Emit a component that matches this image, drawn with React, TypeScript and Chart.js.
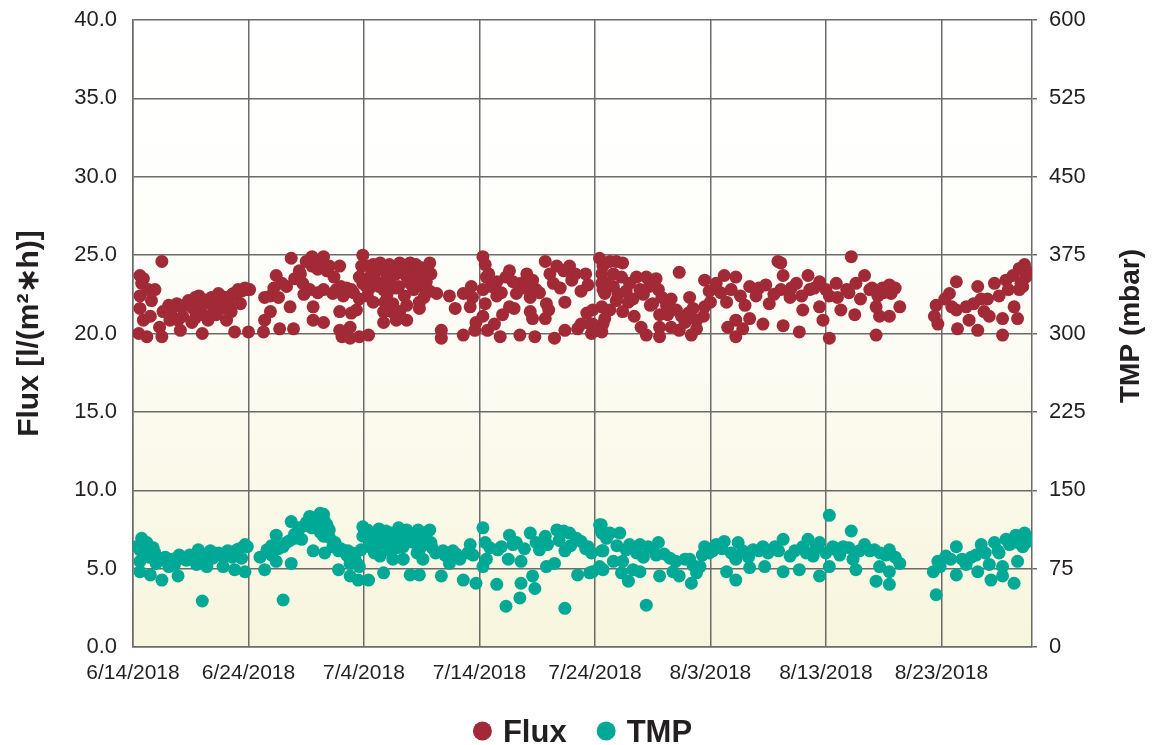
import React, { useEffect, useRef } from "react";
import { Chart, registerables } from "chart.js";

Chart.register(...registerables);

const FONT = "'Liberation Sans', Arial, Helvetica, sans-serif";
const TEXT = "#231f20";
const GRID = "#6b6b6b";
const FLUX_COLOR = "#a12a36";
const TMP_COLOR = "#00a896";

// x values are days since 6/14/2018
const xTickDays = [0, 10, 20, 30, 40, 50, 60, 70];
const xTickLabels = ["6/14/2018", "6/24/2018", "7/4/2018", "7/14/2018", "7/24/2018", "8/3/2018", "8/13/2018", "8/23/2018"];
const X_MAX = 77.85;

const seriesLabels = ["Flux", "TMP"];
const fluxTitle = "Flux [l/(m²∗h)]";
const tmpTitle = "TMP (mbar)";

// Flux [l/(m²h)] : [day, value]
const fluxData: [number, number][] = [
  [0.6, 23.7], [0.9, 23.5], [0.75, 23.2], [0.6, 22.4], [1.3, 22.8], [1.9, 22.8], [1.6, 22.1], [0.6, 21.6], [0.9, 20.85], [1.5, 21.1],
  [0.5, 20.0], [1.2, 19.8], [2.5, 24.6], [2.5, 19.8], [2.3, 20.4], [2.6, 21.4], [3.1, 21.8], [3.5, 21.7], [3.9, 20.85], [4.1, 20.2],
  [4.5, 21.8], [4.8, 22.1], [5.1, 20.7], [5.7, 22.4], [6.0, 20.0], [5.8, 21.7], [6.5, 22.1], [6.5, 20.85], [7.1, 22.1], [7.4, 22.55],
  [7.7, 21.6], [8.1, 20.85], [8.3, 22.2], [8.7, 22.55], [8.8, 20.1], [9.1, 22.8], [9.7, 22.9], [10.0, 20.1], [9.3, 21.9], [10.1, 22.8],
  [8.4, 21.7], [7.0, 21.5], [5.2, 21.6], [3.2, 20.85],
  [3.0, 21.6], [3.8, 21.9], [4.2, 21.7], [5.0, 22.0], [5.4, 22.3], [6.0, 22.2], [6.2, 21.9], [6.8, 22.3], [7.3, 22.0], [7.6, 22.4],
  [8.0, 22.3], [8.6, 22.5], [9.0, 22.6], [9.4, 22.7], [9.8, 22.8], [3.3, 21.2], [4.3, 21.1], [5.4, 21.0], [6.3, 21.1], [7.2, 21.2], [8.5, 21.4],
  [11.4, 22.3], [11.9, 22.4], [12.4, 23.7], [12.6, 22.3], [11.4, 20.85], [11.3, 20.1], [11.9, 21.4], [12.7, 20.3], [13.7, 24.8], [13.3, 23.0],
  [13.9, 20.3], [13.6, 21.7], [14.5, 23.8], [14.7, 23.2], [15.5, 24.9], [15.5, 24.3], [16.5, 24.9], [16.0, 24.1], [17.0, 24.3], [15.6, 21.7],
  [15.6, 20.85], [16.5, 20.7], [15.3, 22.8], [16.5, 22.8], [17.3, 22.55], [17.9, 24.3], [18.2, 22.4], [18.9, 22.8], [17.9, 21.4], [17.9, 20.2],
  [18.1, 19.8], [18.8, 19.7], [18.9, 21.3], [18.8, 20.4], [19.6, 19.8], [19.9, 25.0], [19.8, 24.3], [19.6, 23.6], [19.9, 23.2], [19.6, 22.2],
  [20.4, 19.9], [19.35, 21.5],
  [12.2, 22.9], [12.9, 23.2], [14.0, 23.5], [14.4, 24.0], [15.0, 24.6], [16.2, 24.6], [16.8, 24.0], [17.4, 23.6], [18.0, 23.0], [18.5, 22.9],
  [19.1, 22.6], [14.8, 22.5], [16.0, 22.6], [17.6, 22.8],
  [20.4, 24.3], [20.8, 24.4], [21.4, 24.5], [22.2, 24.4], [23.1, 24.5], [24.0, 24.5], [24.5, 24.4], [25.7, 24.5], [25.8, 23.8], [20.5, 23.6],
  [21.1, 23.3], [22.0, 23.6], [22.8, 23.8], [23.7, 23.6], [24.5, 23.7], [25.4, 23.3], [20.5, 22.9], [21.7, 22.8], [22.8, 22.9], [24.3, 22.8],
  [20.8, 22.0], [21.8, 22.0], [22.5, 21.9], [23.7, 21.8], [24.8, 22.0], [21.7, 21.4], [22.4, 21.4], [23.1, 21.4], [21.7, 20.7], [22.8, 20.85],
  [23.7, 20.85], [24.8, 21.6], [25.7, 22.7], [26.3, 22.55], [26.7, 20.2], [26.7, 19.7], [27.4, 22.4], [27.9, 21.6], [28.6, 22.55], [28.6, 19.9],
  [29.3, 23.0], [29.4, 22.3], [29.7, 20.7], [29.6, 20.2], [29.2, 21.7],
  [21.0, 24.0], [21.6, 24.2], [22.5, 24.0], [23.4, 24.1], [24.2, 24.0], [25.0, 24.2], [20.2, 23.0], [21.3, 23.0], [23.0, 23.0], [24.0, 23.2],
  [25.0, 23.0], [22.0, 22.5], [23.5, 22.4], [25.2, 22.3],
  [20.9, 23.8], [21.9, 23.9], [22.9, 24.2], [23.9, 23.9], [24.9, 23.9], [25.5, 24.0], [20.3, 22.4], [22.3, 23.2], [24.6, 23.2],
  [30.3, 24.9], [30.5, 24.4], [30.6, 23.6], [30.3, 22.8], [30.5, 21.9], [30.3, 21.1], [30.7, 20.2], [30.8, 23.8], [31.5, 23.3], [31.5, 22.4],
  [31.3, 20.6], [31.8, 19.8], [32.0, 21.2], [32.3, 23.6], [32.6, 24.0], [32.6, 21.7], [33.2, 22.55], [33.5, 19.9], [33.6, 23.2], [34.1, 23.8],
  [34.4, 22.3], [34.4, 21.4], [34.6, 20.95], [34.8, 19.8], [34.9, 22.8], [35.7, 24.6], [35.7, 20.95], [35.8, 21.9], [36.1, 23.8], [36.5, 19.7],
  [36.7, 24.3], [37.3, 24.0], [37.4, 22.0], [37.4, 20.2], [37.8, 24.3], [38.3, 23.8], [38.5, 20.3], [38.8, 20.6], [39.4, 23.1], [39.3, 21.3],
  [39.6, 20.6], [39.7, 20.0], [40.4, 24.8], [40.6, 23.8], [40.7, 22.8], [40.6, 21.7], [40.7, 20.6], [40.4, 20.2],
  [31.0, 23.0], [31.9, 22.6], [32.9, 23.3], [33.9, 22.9], [34.6, 23.4], [35.2, 22.6], [36.4, 23.2], [37.0, 22.9], [38.0, 23.4], [38.8, 22.7],
  [39.2, 23.8], [33.0, 21.6], [36.0, 21.5],
  [39.8, 21.5], [39.8, 20.6], [40.1, 20.2], [40.7, 24.3], [40.6, 23.2], [40.85, 22.55], [40.85, 20.95], [40.6, 20.1], [41.3, 24.6], [41.85, 24.6],
  [42.4, 24.5], [41.6, 23.8], [41.3, 21.5], [41.85, 22.1], [42.3, 23.6], [42.4, 21.4], [43.0, 23.2], [42.9, 22.0], [43.6, 23.6], [43.9, 22.8],
  [43.4, 21.1], [44.0, 20.4], [44.45, 19.9], [44.45, 23.6], [44.7, 23.0], [45.3, 23.5], [45.5, 22.8], [45.0, 21.9], [45.6, 21.2], [45.6, 20.4],
  [45.6, 19.8], [46.2, 21.8], [46.6, 22.2], [46.6, 20.4], [47.3, 23.9], [47.05, 21.5], [47.5, 21.1], [47.3, 20.2], [48.2, 22.3], [48.1, 21.3],
  [48.35, 19.9], [48.8, 20.85], [48.8, 20.3], [49.4, 21.1], [49.5, 23.4], [49.5, 21.7], [49.9, 22.7],
  [41.0, 23.2], [41.6, 23.0], [42.0, 22.5], [42.7, 22.7], [43.3, 22.2], [44.2, 22.5], [44.8, 21.8], [45.8, 22.3], [46.3, 21.2], [47.8, 20.7],
  [48.5, 21.6],
  [50.5, 23.2], [51.2, 23.7], [51.4, 22.0], [51.5, 20.4], [52.2, 23.6], [52.2, 20.85], [52.2, 19.8], [52.8, 20.3], [53.4, 23.0], [53.4, 20.95],
  [53.95, 22.4], [54.55, 20.6], [54.8, 23.1], [55.1, 21.9], [55.85, 24.6], [56.1, 24.5], [56.3, 23.7], [56.1, 22.8], [56.3, 20.5], [56.9, 22.3],
  [57.45, 23.2], [57.7, 20.1], [58.0, 21.5], [58.45, 23.7], [58.6, 22.8], [59.45, 23.3], [59.45, 21.7], [59.75, 20.85], [60.3, 19.7], [60.3, 22.4],
  [60.9, 23.2], [61.3, 21.5], [62.2, 24.9], [61.8, 22.8], [62.5, 21.2], [62.6, 23.2], [63.35, 23.7], [63.8, 22.8], [64.35, 19.9], [64.35, 21.7],
  [64.65, 21.1], [64.9, 22.9], [65.5, 23.1], [65.5, 21.1], [65.65, 22.55], [66.4, 21.7],
  [50.0, 22.0], [50.9, 22.6], [51.8, 22.8], [52.6, 22.4], [53.0, 21.8], [54.2, 22.9], [55.5, 22.5], [57.0, 22.9], [57.9, 22.4], [59.0, 22.9],
  [60.0, 22.8], [61.0, 22.3], [62.0, 22.6], [63.0, 22.2], [64.0, 22.9], [65.0, 22.6], [64.5, 22.4], [66.0, 22.9],
  [69.4, 21.1], [69.55, 21.8], [69.7, 20.6], [70.3, 22.2], [70.7, 22.55], [71.3, 23.3], [71.3, 21.5], [71.4, 20.3], [72.15, 21.7], [72.4, 20.85],
  [73.15, 23.0], [73.15, 20.2], [73.45, 22.2], [73.7, 21.4], [74.15, 21.1], [74.6, 23.2], [75.0, 22.4], [75.3, 20.95], [75.3, 19.9], [75.6, 23.4],
  [76.2, 23.7], [76.3, 21.7], [76.6, 20.95], [76.75, 24.15], [77.2, 24.4], [77.3, 23.6], [77.05, 23.0], [76.75, 22.8],
  [70.9, 21.7], [72.8, 21.9], [74.0, 22.2], [75.8, 22.8], [76.9, 23.2], [77.4, 24.0],
];

// TMP [mbar] : [day, value]
const tmpData: [number, number][] = [
  [0.75, 104], [1.2, 100], [0.6, 93], [1.0, 88], [1.75, 95], [1.9, 90], [0.6, 82], [0.6, 72], [1.5, 69], [2.5, 64],
  [2.5, 84], [3.1, 77], [3.9, 68], [3.6, 79], [4.35, 85], [4.9, 88], [5.65, 93], [5.5, 79], [6.0, 44], [6.4, 77],
  [6.7, 92], [7.4, 90], [7.8, 77], [8.4, 88], [9.0, 93], [9.7, 98], [9.7, 72], [8.8, 74], [11.6, 93], [11.4, 74],
  [12.0, 88], [12.4, 107], [12.4, 82], [13.0, 45], [13.7, 120], [13.7, 80], [13.3, 100], [14.3, 111], [14.6, 103], [15.3, 125],
  [15.5, 114], [15.6, 92], [16.5, 127], [16.8, 117], [16.5, 106], [16.6, 90], [17.3, 96], [17.8, 74], [18.3, 92], [18.8, 80],
  [18.8, 68], [19.5, 64], [19.6, 77], [19.9, 115], [19.9, 106], [19.75, 93], [20.4, 64], [20.5, 96], [21.1, 109], [21.7, 71],
  [22.0, 100], [22.5, 84], [23.0, 114], [23.7, 112], [24.0, 69], [23.4, 96], [24.3, 100], [24.8, 69], [25.1, 84], [25.7, 112],
  [25.8, 100], [26.7, 68], [26.85, 92], [27.7, 92], [28.3, 84], [28.6, 64], [29.45, 88], [29.7, 61], [30.3, 114], [30.5, 100],
  [30.3, 77], [30.6, 84], [31.5, 60], [31.6, 93], [32.3, 39], [32.6, 107], [32.5, 84], [33.5, 47], [33.6, 61], [33.6, 82],
  [34.4, 109], [34.6, 68], [34.8, 56], [35.7, 106], [35.8, 77], [36.5, 80], [36.7, 112], [37.3, 111], [37.4, 92], [37.4, 37],
  [37.8, 109], [38.4, 104], [38.5, 69], [39.4, 96], [39.55, 71], [40.4, 117], [40.6, 109], [40.6, 92], [40.7, 74], [35.2, 93],
  [33.2, 100], [29.2, 98], [27.4, 80], [24.8, 93], [22.2, 93], [23.4, 84], [21.4, 87],
  [0.3, 96], [1.4, 86], [2.0, 80], [3.3, 82], [4.0, 88], [5.0, 84], [5.9, 86], [6.9, 85], [7.9, 86], [8.9, 90],
  [9.4, 85], [11.0, 86], [12.8, 96], [14.0, 104], [14.9, 116], [15.9, 120], [16.2, 110], [17.0, 105], [17.8, 92], [18.5, 88],
  [19.2, 86], [20.8, 103], [21.6, 106], [22.6, 104], [23.5, 106], [24.4, 104], [25.3, 106], [20.9, 90], [22.9, 95], [24.6, 90],
  [26.2, 90], [27.0, 88], [28.0, 89], [29.0, 90], [30.9, 95], [31.9, 96], [32.9, 98], [33.9, 94], [34.9, 100], [35.9, 98],
  [36.9, 102], [37.9, 97], [38.8, 101], [39.2, 94],
  [2.8, 86], [3.4, 84], [4.6, 83], [5.2, 88], [6.1, 89], [6.6, 86], [7.0, 89], [7.6, 88], [8.2, 92], [8.6, 86], [9.2, 94], [9.9, 96],
  [12.0, 97], [12.6, 94], [13.0, 96], [13.6, 102], [14.0, 108], [14.4, 114], [15.0, 119], [15.9, 124], [16.2, 128], [16.6, 120],
  [17.0, 112], [17.5, 100], [18.0, 94], [18.6, 92], [19.0, 90], [19.4, 80],
  [20.3, 112], [20.7, 108], [21.3, 113], [21.9, 111], [22.4, 109], [23.3, 110], [24.1, 108], [24.7, 112], [25.5, 110], [20.6, 100],
  [21.5, 99], [22.7, 100], [23.9, 101], [25.0, 97], [25.9, 95],
  [39.7, 90], [39.8, 72], [40.55, 117], [40.55, 111], [40.7, 92], [40.4, 77], [41.3, 109], [42.15, 109], [41.6, 82], [42.4, 82],
  [42.3, 71], [42.9, 63], [43.0, 98], [43.3, 74], [43.9, 98], [43.9, 72], [44.45, 40], [44.6, 96], [45.5, 100], [45.3, 88],
  [45.6, 68], [46.5, 85], [46.75, 72], [47.3, 68], [47.8, 84], [48.2, 84], [48.35, 61], [48.8, 71], [49.1, 77], [49.5, 96],
  [49.9, 90], [50.5, 98], [51.2, 101], [51.4, 72], [52.2, 64], [52.4, 100], [52.2, 84], [53.4, 76], [53.7, 93], [54.55, 96],
  [54.7, 77], [55.6, 96], [56.3, 103], [56.3, 72], [56.9, 87], [57.7, 74], [58.0, 96], [58.45, 103], [58.9, 87], [59.45, 100],
  [59.45, 68], [60.3, 126], [60.3, 77], [60.9, 93], [61.5, 96], [62.2, 111], [62.35, 84], [62.6, 74], [63.35, 98], [64.2, 93],
  [64.35, 63], [64.65, 77], [65.5, 93], [65.5, 72], [65.5, 60], [66.4, 80],
  [41.0, 104], [41.9, 97], [42.7, 93], [43.6, 90], [44.2, 86], [45.0, 94], [46.0, 89], [47.0, 82], [48.5, 78], [49.3, 88],
  [50.2, 92], [51.0, 94], [51.8, 90], [52.8, 92], [53.3, 86], [54.2, 92], [55.0, 90], [55.9, 92], [57.3, 92], [58.3, 90],
  [59.1, 94], [60.0, 90], [60.6, 96], [61.2, 88], [62.0, 95], [62.9, 92], [63.8, 92], [64.7, 90], [65.2, 88], [66.0, 86],
  [69.3, 72], [69.55, 50], [69.7, 82], [70.4, 87], [71.3, 96], [71.3, 69], [72.15, 79], [73.0, 88], [73.15, 72], [73.45, 98],
  [74.15, 79], [74.3, 64], [74.6, 100], [75.3, 77], [75.3, 68], [75.6, 103], [76.3, 61], [76.6, 82], [76.45, 107], [77.2, 109],
  [77.35, 100], [77.05, 96], [75.0, 90],
  [69.9, 77], [70.8, 84], [71.8, 84], [72.6, 86], [73.8, 90], [74.9, 92], [75.9, 98], [76.6, 100], [77.5, 104],
];

export default function App() {
  const ref = useRef<HTMLCanvasElement>(null);

  useEffect(() => {
    if (!ref.current) return;

    const bgPlugin = {
      id: "bgGradient",
      beforeDraw(chart: any) {
        const { ctx, chartArea } = chart;
        const { left, top, right, bottom } = chartArea;
        const g = ctx.createLinearGradient(0, top, 0, bottom);
        g.addColorStop(0, "#ffffff");
        g.addColorStop(0.35, "#fefefb");
        g.addColorStop(1, "#f8f5dd");
        ctx.save();
        ctx.fillStyle = g;
        ctx.fillRect(left, top, right - left, bottom - top);
        ctx.restore();
      },
    };

    const extrasPlugin = {
      id: "extras",
      afterDraw(chart: any) {
        const { ctx, chartArea } = chart;
        ctx.save();
        // right axis title, reading bottom to top
        ctx.translate(1131, 326);
        ctx.rotate(-Math.PI / 2);
        ctx.font = `bold 28px ${FONT}`;
        ctx.fillStyle = TEXT;
        ctx.textAlign = "center";
        ctx.textBaseline = "middle";
        ctx.fillText(tmpTitle, 0, 0);
        ctx.restore();

        // legend
        ctx.save();
        ctx.font = `bold 31px ${FONT}`;
        const r = 9.5;
        const gapMarker = 11;
        const gapItems = 30;
        const items = chart.data.datasets.map((ds: any) => ({
          label: ds.label,
          color: ds.backgroundColor,
          w: ctx.measureText(ds.label).width,
        }));
        let total = 0;
        items.forEach((it: any, i: number) => {
          total += 2 * r + gapMarker + it.w + (i < items.length - 1 ? gapItems : 0);
        });
        let x = (chartArea.left + chartArea.right) / 2 - total / 2;
        const cy = 731;
        items.forEach((it: any) => {
          ctx.beginPath();
          ctx.fillStyle = it.color;
          ctx.arc(x + r, cy, r, 0, Math.PI * 2);
          ctx.fill();
          x += 2 * r + gapMarker;
          ctx.fillStyle = TEXT;
          ctx.textBaseline = "alphabetic";
          ctx.textAlign = "left";
          ctx.fillText(it.label, x, 742);
          x += it.w + gapItems;
        });
        ctx.restore();
      },
    };

    const tickFont = { family: FONT, size: 21 };
    const noOverhangV = (s: any) => {
      s.paddingTop = 0;
      s.paddingBottom = 0;
    };

    const chart = new Chart(ref.current, {
      type: "scatter",
      data: {
        datasets: [
          {
            label: seriesLabels[0],
            data: fluxData.map(([d, v]) => ({ x: d, y: v })),
            backgroundColor: FLUX_COLOR,
            borderWidth: 0,
            pointRadius: 6.5,
            yAxisID: "y",
          },
          {
            label: seriesLabels[1],
            data: tmpData.map(([d, v]) => ({ x: d, y: v })),
            backgroundColor: TMP_COLOR,
            borderWidth: 0,
            pointRadius: 6.5,
            yAxisID: "y1",
          },
        ],
      },
      options: {
        responsive: false,
        animation: false,
        devicePixelRatio: 1,
        layout: { padding: { top: 20, left: 0, right: 0, bottom: 0 } },
        plugins: {
          legend: { display: false },
          tooltip: { enabled: false },
        },
        scales: {
          x: {
            type: "linear",
            position: "bottom",
            min: 0,
            max: X_MAX,
            afterBuildTicks: (s: any) => {
              s.ticks = xTickDays.map((v) => ({ value: v }));
            },
            afterFit: (s: any) => {
              s.height = 98;
              s.paddingLeft = 0;
              s.paddingRight = 0;
            },
            ticks: {
              callback: (_v: any, i: number) => xTickLabels[i],
              font: tickFont,
              color: TEXT,
              padding: 14,
              maxRotation: 0,
              autoSkip: false,
            },
            grid: { color: GRID, lineWidth: 1.5, drawTicks: false },
            border: { display: true, color: GRID, width: 1.5 },
          },
          y: {
            position: "left",
            min: 0,
            max: 40,
            afterFit: (s: any) => {
              s.width = 133;
              noOverhangV(s);
            },
            ticks: {
              stepSize: 5,
              callback: (v: any) => Number(v).toFixed(1),
              font: { family: FONT, size: 22 },
              color: TEXT,
              padding: 16,
            },
            grid: { color: GRID, lineWidth: 1.5, drawTicks: false },
            border: { display: true, color: GRID, width: 1.5 },
            title: {
              display: true,
              text: fluxTitle,
              font: { family: FONT, size: 30, weight: "bold" },
              color: TEXT,
              padding: { top: 12, bottom: 0 },
            },
          },
          y1: {
            position: "right",
            min: 0,
            max: 600,
            afterFit: (s: any) => {
              s.width = 122;
              noOverhangV(s);
            },
            ticks: {
              stepSize: 75,
              callback: (v: any) => String(v),
              font: { family: FONT, size: 22 },
              color: TEXT,
              padding: 12,
            },
            grid: { drawOnChartArea: false, drawTicks: true, tickLength: 5, color: GRID, lineWidth: 1.5 },
            border: { display: true, color: GRID, width: 1.5 },
          },
        },
      },
      plugins: [bgPlugin, extrasPlugin],
    } as any);

    return () => chart.destroy();
  }, []);

  return (
    <div style={{ position: "fixed", left: 0, top: 0, width: 1154, height: 745, background: "#ffffff" }}>
      <canvas ref={ref} width={1154} height={745} style={{ display: "block" }} />
    </div>
  );
}
